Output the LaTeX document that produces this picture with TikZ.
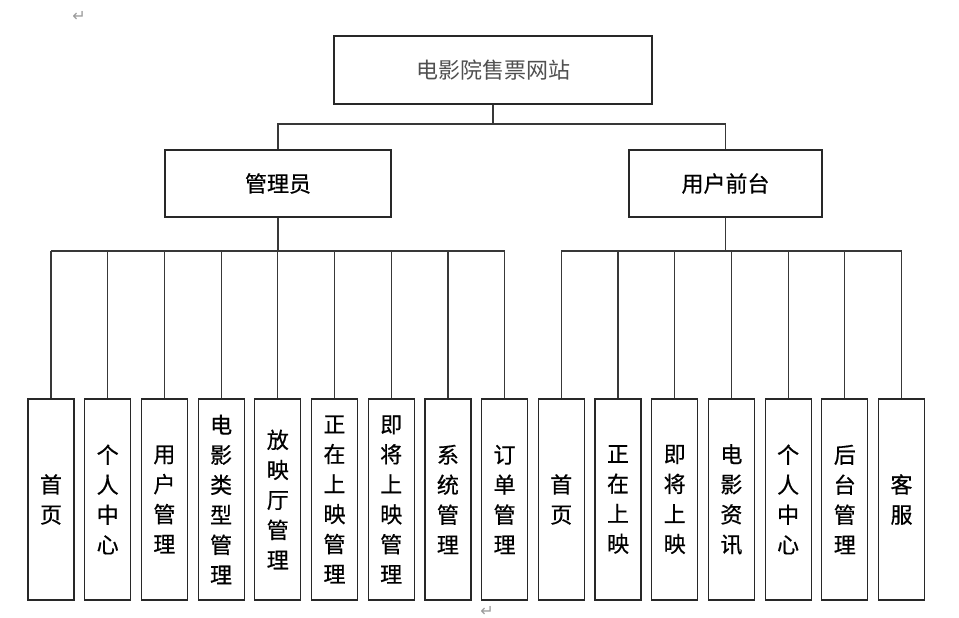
\documentclass[tikz,border=0pt]{standalone}
\usepackage{fontspec}
\newfontfamily\cjk{Noto Sans CJK SC}[FakeBold=0.6]
\newfontfamily\cjkroot{Noto Sans CJK SC}
\newfontfamily\symf{DejaVu Sans}
\definecolor{linec}{HTML}{383838}
\definecolor{boxc}{HTML}{282828}
\definecolor{rootc}{HTML}{505050}
\definecolor{markc}{HTML}{9A9A9A}
\begin{document}
\begin{tikzpicture}[x=1pt,y=-1pt,
  box/.style={draw=boxc,line width=1.2pt,rectangle,inner sep=0pt,fill=white},
  rootbox/.style={box,minimum width=318pt,minimum height=68pt,font=\cjkroot\fontsize{22}{26}\selectfont,text=rootc},
  midbox/.style={box,minimum height=67pt,font=\cjk\fontsize{22}{26}\selectfont},
  leaf/.style={box,minimum width=46pt,minimum height=201pt,align=center,font=\cjk\fontsize{22}{30}\selectfont},
  conn/.style={draw=linec,line width=1.2pt},
  crmark/.style={text=markc,font=\symf\fontsize{16}{16}\selectfont,inner sep=0pt}]
\useasboundingbox (0,0) rectangle (959,618);
\fill[white] (0,0) rectangle (959,618);
\node[crmark] (m1) at (79,16) {↵};
\node[crmark] (m2) at (487,611) {↵};
\node[rootbox] (root) at (493,70) {电影院售票网站};
\node[midbox,minimum width=226pt] (admin) at (278,183.5) {管理员};
\node[midbox,minimum width=193pt] (user) at (725.5,183.5) {用户前台};
\coordinate (rb) at (493,124);
\coordinate (ab) at (278,251);
\coordinate (ub) at (725.5,251);
\foreach \i/\t in {1/{首\\页},2/{个\\人\\中\\心},3/{用\\户\\管\\理},4/{电\\影\\类\\型\\管\\理},5/{放\\映\\厅\\管\\理},6/{正\\在\\上\\映\\管\\理},7/{即\\将\\上\\映\\管\\理},8/{系\\统\\管\\理},9/{订\\单\\管\\理},10/{首\\页},11/{正\\在\\上\\映},12/{即\\将\\上\\映},13/{电\\影\\资\\讯},14/{个\\人\\中\\心},15/{后\\台\\管\\理},16/{客\\服}}{
  \node[leaf] (l\i) at ({51+56.7*(\i-1)},499.5) {\t};
}
\draw[conn] (root.south) -- (rb);
\draw[conn] (admin.north) -- (admin.north |- rb) -- (user.north |- rb) -- (user.north);
\draw[conn] (admin.south) -- (ab);
\draw[conn] (user.south) -- (ub);
\draw[conn] (l1.north |- ab) -- (l9.north |- ab);
\draw[conn] (l10.north |- ub) -- (l16.north |- ub);
\foreach \i in {1,...,9}{\draw[conn] (l\i.north) -- (l\i.north |- ab);}
\foreach \i in {10,...,16}{\draw[conn] (l\i.north) -- (l\i.north |- ub);}
\end{tikzpicture}
\end{document}
